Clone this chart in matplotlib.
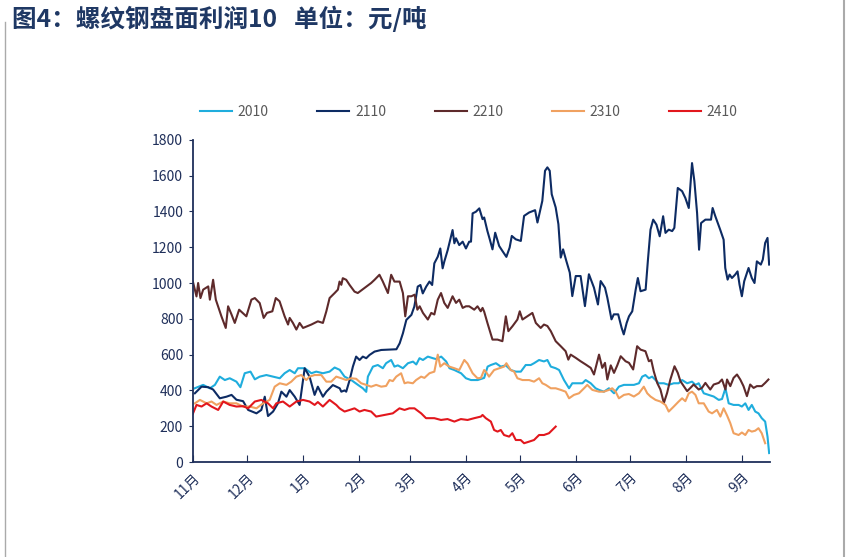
import matplotlib
matplotlib.use("Agg")
import matplotlib.pyplot as plt
from matplotlib.lines import Line2D

plt.rcParams['font.family'] = ['Noto Sans CJK SC', 'DejaVu Sans']

# x = days since Nov 1, y = 元/吨
x_2010 = [1, 5.7, 9.4, 12.2, 14.9, 17.7, 20.4, 24.1, 26.3, 28.7, 31.9, 34.3, 37, 40.7, 44.4, 48.1, 50.8,
          53.6, 56.4, 58.2, 61.9, 65.6, 68.3, 72, 75.7, 78.5, 81.3, 84, 87.7, 91.4, 94.1, 96, 96.9, 99.7,
          102.4, 105.2, 107, 109.8, 111.6, 113.5, 116.3, 119.1, 121.9, 123.7, 125.5, 127.4, 130.1, 132.9,
          134.7, 137.5, 140.3, 142.1, 144.8, 148.5, 151.2, 154, 157.7, 161.3, 163.2, 165, 167.8, 170.5,
          173.3, 176, 178.8, 181.6, 184.3, 187.1, 188.9, 191.7, 194.4, 196.3, 198.2, 200.9, 202.8, 205.5,
          208.3, 210.1, 212.9, 215.7, 217.5, 220.3, 223, 224.9, 227.6, 230.4, 233.2, 235.9, 238.7, 241.4,
          244.2, 247, 248.8, 250.6, 252.5, 254.3, 256.2, 258, 260.8, 263.5, 266.3, 269, 270.9, 273.7,
          276.4, 278.3, 280.1, 282.9, 285.6, 288.4, 291.2, 293, 294.9, 296.7, 299.4, 302.2, 304, 305.9,
          307.7, 309.5, 311.4, 313.2, 315, 316.9, 318.2, 319.1]
y_2010 = [412, 431, 412, 431, 477, 458, 468, 449, 418, 496, 505, 462, 477, 486, 477, 468, 496,
          514, 496, 524, 524, 496, 505, 496, 505, 528, 515, 477, 458, 431, 412, 392, 477, 533,
          542, 524, 552, 570, 533, 540, 524, 552, 561, 545, 580, 570, 589, 580,
          575, 589, 561, 524, 514, 496, 468, 458, 458, 470, 533, 542, 552, 533,
          540, 514, 505, 505, 542, 542, 552, 570, 562, 570, 533, 524, 514, 458,
          412, 440, 440, 440, 458, 440, 412, 403, 393, 412, 384, 421, 431, 431,
          431, 440, 477, 486, 468, 477, 458, 440, 440, 431, 440, 440, 458, 440,
          449, 431, 440, 384, 375, 366, 347, 352, 412, 328, 319, 319, 310, 328,
          291, 319, 282, 272, 245, 226, 142, 50]

x_2110 = [1.1, 4.8, 8.5, 11.2, 14.9, 18.6, 21.4, 24.1, 27.8, 30.6, 35.2, 37.9, 39.8, 41.6, 44.4, 47.1, 49,
          51.8, 53.6, 56.4, 59.1, 61.9, 64.6, 67.4, 69.2, 72, 73.9, 77.5, 81.3, 82.2, 84, 84.9, 86.8,
          88.6, 90.4, 92.3, 94.1, 96, 97.8, 100.6, 104.3, 108, 112.7, 114.5, 116.3, 118.2, 121, 122.6,
          123.6, 124.5, 126, 127.3, 129.2, 131, 132.5, 133.7, 135.6, 137, 138.3, 139.2, 141.1, 142.9,
          143.8, 144.8, 145.7, 147.5, 149.4, 151.2, 153, 154, 154.9, 156.7, 158.6, 160.4, 161.3, 163.1,
          164.4, 165.9, 167.4, 169.6, 171.4, 173.6, 175.4, 176.6, 178.8, 181.6, 183.4, 186.2, 189.5,
          190.8, 193.5, 195, 196.3, 197.6, 198.7, 200.9, 202.4, 203.7, 205, 206.8, 208.7, 210.1, 212,
          214.7, 217.1, 219.3, 222.1, 224.3, 225.8, 228.2, 229.5, 231.8, 233.1, 235.5, 237.4, 238.6,
          240.2, 241.5, 243.3, 245.2, 246.4, 247.9, 250.7, 252, 253.4, 254.9, 256.7, 258.5, 260.4,
          261.7, 263.5, 265.4, 266.6, 268.5, 270.9, 272.7, 274.6, 276.4, 277.7, 279.2, 280.3, 281.4,
          283.8, 286.9, 287.8, 289.3, 292, 293.9, 294.8, 296.1, 297.2, 298.5, 300.3, 301.6, 302.7,
          304, 305.3, 307.7, 309.5, 311, 312.3, 314.5, 315.6, 316.9, 318.2, 319.1]
y_2110 = [384, 421, 418, 405, 356, 365, 375, 348, 340, 291, 272, 291, 365, 257, 282, 328, 393,
          365, 402, 365, 319, 524, 477, 375, 421, 365, 393, 430, 412, 393, 400, 393, 458,
          533, 589, 570, 589, 580, 598, 617, 626, 628, 630, 663, 719, 794, 822, 868,
          924, 980, 989, 942, 980, 1008, 989, 1110, 1147, 1193, 1082, 1119, 1184, 1259,
          1296, 1222, 1250, 1212, 1231, 1193, 1231, 1231, 1389, 1398, 1417, 1357, 1366, 1290,
          1244, 1188, 1281, 1207, 1179, 1146, 1198, 1263, 1244, 1235, 1375, 1394, 1407,
          1338, 1459, 1627, 1646, 1627, 1496, 1422, 1329, 1142, 1188, 1123, 1058, 927, 1039,
          1039, 871, 1049, 974, 880, 1011, 974, 918, 797, 825, 825, 750, 713,
          777, 814, 842, 963, 1028, 954, 963, 1131, 1298, 1354, 1326, 1261, 1373,
          1280, 1298, 1290, 1308, 1531, 1513, 1475, 1419, 1670, 1569, 1391, 1186, 1335,
          1354, 1354, 1419, 1373, 1298, 1242, 1084, 1019, 1047, 1028, 1047, 1065, 991,
          926, 1010, 1084, 1028, 1000, 1121, 1103, 1131, 1224, 1252, 1103]

x_2210 = [0, 2, 2.9, 4.2, 5.7, 8.5, 9.4, 11.2, 12.7, 15.8, 18.2, 19.5, 21.4, 23.2, 25.6, 29.6, 32.4,
          34.3, 37, 39.2, 41, 44, 45.9, 48, 50.8, 52.7, 53.6, 55.4, 57.3, 59.1, 61, 65.6, 69.2, 72,
          73.9, 75.7, 78.5, 80.3, 81.2, 82.2, 83, 84.9, 86.8, 89.5, 91.3, 95, 98.7, 100.6, 103.3, 105.1,
          108, 109.8, 111.6, 114.5, 116.3, 117.6, 119.1, 121, 122.8, 124.3, 125.6, 127.4, 130.1, 132,
          133.7, 135.6, 137.4, 139.2, 141.1, 143.8, 145.7, 147.5, 149.4, 151.2, 153, 155.8, 157.6,
          159.4, 160.4, 161.3, 163.1, 165.9, 168.7, 171.4, 173.3, 174.7, 177, 179.7, 181, 182.5,
          185.2, 188, 189.9, 192.6, 194.4, 196.3, 198.2, 200.9, 203.7, 206.4, 207.9, 209.2, 212,
          214.7, 217.5, 220.3, 222.1, 224.9, 226.7, 228.2, 229.5, 231.4, 233.2, 235, 236.9, 239.6,
          241.5, 243.8, 246, 247.9, 250.6, 252.5, 253.8, 255.2, 257.1, 258.9, 260.8, 262.6, 264.4,
          266.7, 268.5, 270, 271.8, 273.7, 275.5, 277.3, 280.1, 281.9, 283.8, 286.5, 288.4, 291.2,
          293, 294.9, 295.8, 297.6, 299.4, 301.3, 303.1, 304.9, 306.8, 308.6, 310.5, 312.3, 315,
          316.9, 318.7]
y_2210 = [1008, 925, 1000, 916, 963, 981, 907, 1018, 907, 814, 749, 870, 824, 777, 851, 814, 907,
          916, 888, 805, 833, 842, 916, 898, 814, 768, 805, 777, 740, 777, 749, 768, 786, 777,
          842, 916, 944, 963, 1008, 990, 1027, 1018, 989, 952, 944, 972, 1000, 1018, 1046, 1010,
          944, 1046, 1008, 1008, 944, 814, 926, 926, 935, 851, 870, 833, 796, 833,
          824, 907, 944, 889, 861, 926, 889, 907, 861, 870, 870, 851, 870,
          842, 861, 840, 777, 684, 684, 675, 814, 731, 759, 796, 842, 796,
          814, 833, 777, 749, 768, 760, 731, 675, 647, 619, 572, 600, 582,
          563, 545, 526, 489, 600, 526, 554, 461, 540, 498, 540, 591, 563,
          554, 517, 647, 628, 619, 563, 570, 507, 442, 405, 330, 386, 461,
          535, 498, 451, 424, 396, 414, 433, 405, 414, 442, 405, 433, 442,
          461, 405, 461, 424, 470, 489, 461, 424, 368, 433, 414, 424, 424,
          442, 461]

x_2310 = [1.1, 3.9, 7.6, 10.3, 13.1, 16.8, 20.4, 24.1, 27.8, 31.5, 35.2, 38.9, 42.5, 45.3, 48.1, 51.8,
          54.5, 57.3, 60, 62.8, 64.6, 67.4, 71.1, 73.9, 76.6, 79.4, 82.2, 84.9, 87.7, 90.4, 93.2, 96,
          98.7, 101.5, 104.3, 107, 108.9, 110.7, 112.6, 115.3, 117.2, 119, 121.8, 123.6, 126.4, 128.2,
          131, 133.7, 135.6, 137, 139.2, 142, 144.8, 147.5, 150.3, 152.1, 154.9, 157.6, 159.5, 161.3,
          162.2, 164, 166.8, 169.6, 172.3, 173.6, 176, 177.9, 179.7, 182.5, 186.2, 188.9, 191.7, 193.5,
          195.4, 198.2, 200.9, 203.7, 206.4, 208.3, 211, 213.8, 216.6, 218.4, 221.2, 224.9, 227.6,
          230.4, 232.2, 234.1, 235.9, 238.7, 241.4, 244.2, 247, 249.7, 251.6, 253.4, 256.2, 258.9,
          261.7, 263.5, 266.3, 269, 270.9, 272.7, 274.6, 276.4, 278.3, 280.1, 282.9, 285.6, 287.5,
          290.2, 292.1, 293.9, 295.8, 297.6, 299.4, 302.2, 304, 305.9, 307.7, 309.5, 311.4, 313.2,
          315, 316.9]
y_2310 = [328, 347, 328, 338, 319, 338, 328, 328, 310, 310, 300, 328, 347, 421, 440, 431,
          449, 477, 486, 458, 477, 486, 486, 449, 449, 477, 468, 458, 468, 465, 440, 431,
          421, 431, 421, 425, 458, 452, 477, 496, 440, 445, 440, 458, 477, 470,
          496, 505, 600, 533, 552, 533, 524, 514, 570, 550, 496, 468, 470, 514,
          505, 477, 514, 524, 533, 552, 514, 505, 468, 458, 458, 449, 468, 440,
          431, 412, 412, 403, 393, 356, 375, 384, 412, 431, 403, 393, 393,
          403, 412, 393, 356, 375, 380, 366, 384, 421, 384, 366, 347, 338,
          319, 282, 310, 338, 356, 340, 384, 393, 375, 328, 328, 282, 272,
          291, 254, 300, 260, 217, 161, 151, 165, 151, 179, 170, 175, 189,
          161, 105]

x_2410 = [0, 2, 4.8, 7.6, 10.3, 14, 16.8, 20.4, 24.1, 27.8, 30.6, 34.3, 37.9, 41.6, 44.4, 46.2, 49.9,
          53.6, 57.3, 61, 64.6, 67.4, 69.2, 72, 75.7, 79.4, 81.2, 84, 86.8, 89.5, 92.3, 95, 98.7,
          101.5, 106.1, 110.7, 114.4, 117.2, 119.9, 122.7, 126.4, 129.1, 133.7, 137.4, 141, 144.8,
          148.4, 152.1, 155.8, 159.5, 160.4, 162.2, 165, 166.8, 168.7, 170.5, 172.3, 175.1, 176.9,
          178.8, 181.5, 183.4, 186.2, 188.9, 191.7, 194.4, 197.2, 199, 200.9]
y_2410 = [270, 319, 310, 328, 310, 291, 338, 319, 310, 312, 300, 338, 347, 328, 300, 328, 338,
          310, 338, 347, 338, 319, 335, 310, 347, 319, 300, 282, 291, 300, 282, 291, 282,
          254, 263, 272, 300, 291, 300, 300, 272, 245, 245, 235, 240, 226,
          240, 235, 245, 254, 263, 245, 226, 179, 170, 179, 151, 142, 161,
          123, 123, 105, 114, 123, 151, 151, 161, 179, 198]

series = ['2010', '2110', '2210', '2310', '2410']
colors = ['#1FADDD', '#0D2B63', '#5E2A2B', '#F0A160', '#E2171D']

month_days = [0, 30, 61, 92, 120, 151, 181, 212, 242, 273, 304]
month_labels = ['11月', '12月', '1月', '2月', '3月', '4月', '5月', '6月', '7月', '8月', '9月']

navy = '#1F2F5A'

fig = plt.figure(figsize=(8.46, 5.57), dpi=100)
ax = fig.add_axes([0.228, 0.1705, 0.682, 0.5785])

data = [(x_2010, y_2010), (x_2110, y_2110), (x_2210, y_2210), (x_2310, y_2310), (x_2410, y_2410)]
for (xs, ys), name, c in zip(data, series, colors):
    ax.plot(xs, ys, color=c, lw=1.5, label=name)

ax.set_xlim(0, 319.5)
ax.set_ylim(0, 1800)
ax.set_yticks(range(0, 1801, 200))
ax.set_xticks(month_days)
ax.set_xticklabels(month_labels, rotation=45, ha='right', va='top', rotation_mode='anchor')

for s in ['top', 'right']:
    ax.spines[s].set_visible(False)
for s in ['left', 'bottom']:
    ax.spines[s].set_color(navy)
    ax.spines[s].set_linewidth(1.3)
ax.tick_params(axis='y', direction='out', length=3, color=navy, labelcolor=navy, labelsize=10, pad=4)
ax.tick_params(axis='x', direction='in', length=5, color=navy, labelcolor=navy, labelsize=10, pad=6)

fig.legend(loc='center', bbox_to_anchor=(0.554, 0.799), ncol=5, frameon=False,
           handlelength=2.3, handletextpad=0.4, columnspacing=3.5, fontsize=10,
           labelcolor='#595959')

fig.text(0.014, 0.967, '图4：螺纹钢盘面利润10   单位：元/吨', fontsize=17.7, fontweight='bold',
         color='#1F3864', va='center', ha='left')

# thin frame lines on the sides
fig.add_artist(Line2D([0.0065, 0.0065], [0, 0.96], transform=fig.transFigure, color='#AAAAAA', lw=1))
fig.add_artist(Line2D([0.9975, 0.9975], [0, 1], transform=fig.transFigure, color='#AAAAAA', lw=1.5))

fig.savefig('out.png', dpi=100)
